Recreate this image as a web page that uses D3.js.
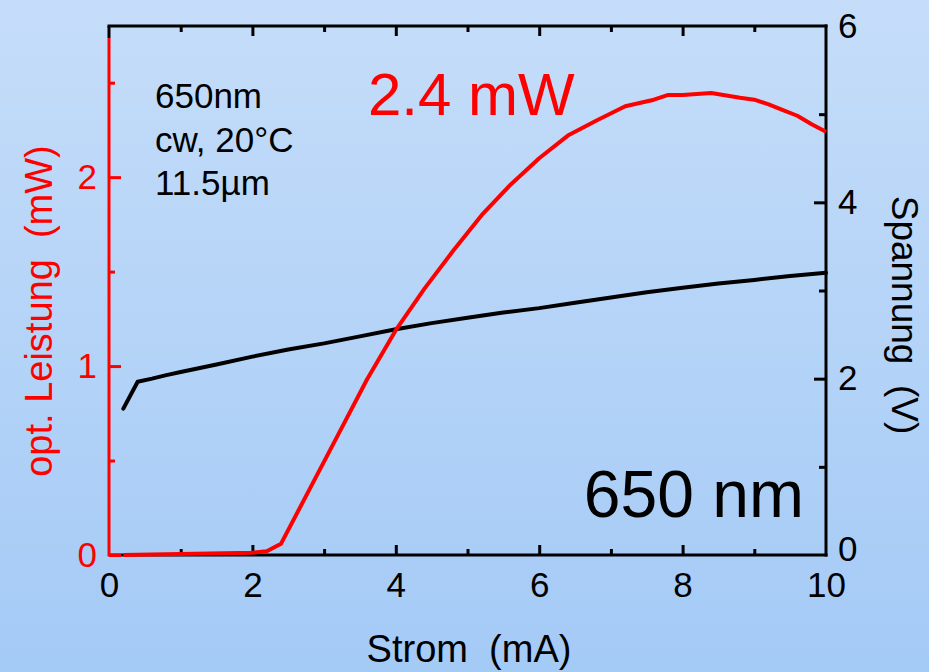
<!DOCTYPE html>
<html><head><meta charset="utf-8">
<script src="https://cdn.jsdelivr.net/npm/d3@7"></script>
<style>html,body{margin:0;padding:0;overflow:hidden;}svg{display:block;font-family:"Liberation Sans",Arial,sans-serif;}</style>
</head><body>
<script>
// ---- data ----
const powerCurrent = [0.2,1.0,2.0,2.2,2.4,2.8,3.2,3.6,4.0,4.4,4.8,5.2,5.6,6.0,6.4,6.8,7.2,7.6,7.8,8.0,8.4,8.8,9.0,9.2,9.4,9.6,9.8,10.0];
const powerValues  = [0.0,0.005,0.012,0.02,0.06,0.35,0.64,0.93,1.19,1.41,1.61,1.80,1.96,2.10,2.22,2.30,2.375,2.41,2.435,2.435,2.445,2.42,2.41,2.385,2.355,2.325,2.28,2.24];
const voltCurrent  = [0.2,0.4,0.6,0.8,1.0,1.5,2.0,2.5,3.0,3.5,4.0,4.5,5.0,5.5,6.0,6.5,7.0,7.5,8.0,8.5,9.0,9.5,10.0];
const voltValues   = [1.66,1.965,2.0,2.04,2.075,2.16,2.25,2.33,2.40,2.48,2.56,2.63,2.69,2.75,2.80,2.86,2.92,2.98,3.03,3.08,3.12,3.165,3.2];
const xTicks = [0,2,4,6,8,10];
const xMinorTicks = [1,3,5,7,9];
const yLeftTicks = [0,1,2];
const yLeftMinor = [0.5,1.5,2.5];
const yRightTicks = [0,2,4,6];
const yRightMinor = [1,3,5];
const xTitle = "Strom\u00a0\u00a0(mA)";
const yLeftTitle = "opt. Leistung\u00a0\u00a0(mW)";
const yRightTitle = "Spannung\u00a0\u00a0(V)";
const infoLines = ["650nm","cw, 20°C","11.5µm"];
const peakLabel = "2.4 mW";
const waveLabel = "650 nm";

// ---- layout ----
const W = 929, H = 672;
const L = 109, R = 826, T = 26, B = 555;
const svg = d3.select("body").append("svg").attr("width", W).attr("height", H);
const defs = svg.append("defs");
const grad = defs.append("linearGradient").attr("id","bg").attr("x1",0).attr("y1",0).attr("x2",0).attr("y2",1);
grad.append("stop").attr("offset","0%").attr("stop-color","#c5ddf9");
grad.append("stop").attr("offset","100%").attr("stop-color","#a4caf6");
svg.append("rect").attr("width",W).attr("height",H).attr("fill","url(#bg)");

const x = d3.scaleLinear().domain([0,10]).range([L,R]);
const yL = d3.scaleLinear().domain([0,2.8]).range([B,T]);
const yR = d3.scaleLinear().domain([0,6]).range([B,T]);

const tickFont = 35;
function style(g, color){
  g.select(".domain").remove();
  g.selectAll("line").attr("stroke",color).attr("stroke-width",3);
  g.selectAll("text").attr("fill",color).attr("font-size",tickFont).attr("font-family","Liberation Sans, Arial, sans-serif");
}

// frame lines
svg.append("line").attr("x1",L-1.5).attr("x2",R+1.5).attr("y1",T).attr("y2",T).attr("stroke","#000").attr("stroke-width",3);
svg.append("line").attr("x1",L).attr("x2",L).attr("y1",T).attr("y2",38).attr("stroke","#000").attr("stroke-width",3);
svg.append("line").attr("x1",R).attr("x2",R).attr("y1",T-1.5).attr("y2",B+1.5).attr("stroke","#000").attr("stroke-width",3);
svg.append("line").attr("x1",L).attr("x2",R+1.5).attr("y1",B).attr("y2",B).attr("stroke","#000").attr("stroke-width",3);
svg.append("line").attr("x1",L).attr("x2",L).attr("y1",38).attr("y2",B+1.5).attr("stroke","#f00").attr("stroke-width",3);

// bottom axis
const gB = svg.append("g").attr("transform",`translate(0,${B})`)
  .call(d3.axisBottom(x).tickValues(xTicks).tickSizeInner(-10).tickSizeOuter(0).tickPadding(17).tickFormat(d3.format("d")));
style(gB,"#000");
gB.selectAll(".tick").filter(d=>d===0||d===10).select("line").remove();
const gBm = svg.append("g").attr("transform",`translate(0,${B})`)
  .call(d3.axisBottom(x).tickValues(xMinorTicks).tickSizeInner(-6).tickSizeOuter(0).tickFormat(""));
style(gBm,"#000");
// top axis
const gT = svg.append("g").attr("transform",`translate(0,${T})`)
  .call(d3.axisTop(x).tickValues(xTicks.filter(d=>d>0&&d<10)).tickSizeInner(-10).tickSizeOuter(0).tickFormat(""));
style(gT,"#000");
const gTm = svg.append("g").attr("transform",`translate(0,${T})`)
  .call(d3.axisTop(x).tickValues(xMinorTicks).tickSizeInner(-6).tickSizeOuter(0).tickFormat(""));
style(gTm,"#000");

// left axis (red)
const gL = svg.append("g").attr("transform",`translate(${L},0)`)
  .call(d3.axisLeft(yL).tickValues(yLeftTicks).tickSizeInner(-12).tickSizeOuter(0).tickPadding(12).tickFormat(d3.format("d")));
style(gL,"#f00");
const gLm = svg.append("g").attr("transform",`translate(${L},0)`)
  .call(d3.axisLeft(yL).tickValues(yLeftMinor).tickSizeInner(-6).tickSizeOuter(0).tickFormat(""));
style(gLm,"#f00");

// right axis
const gR = svg.append("g").attr("transform",`translate(${R},0)`)
  .call(d3.axisRight(yR).tickValues(yRightTicks).tickSizeInner(-12).tickSizeOuter(0).tickPadding(12).tickFormat(d3.format("d")));
style(gR,"#000");
gR.selectAll(".tick").filter(d=>d===0||d===6).select("line").remove();
gR.selectAll(".tick").filter(d=>d===0).select("text").attr("dy","0.15em");
const gRm = svg.append("g").attr("transform",`translate(${R},0)`)
  .call(d3.axisRight(yR).tickValues(yRightMinor).tickSizeInner(-7).tickSizeOuter(0).tickFormat(""));
style(gRm,"#000");

// curves
const lineP = d3.line().x((d,i)=>x(powerCurrent[i])).y(d=>yL(d));
const lineV = d3.line().x((d,i)=>x(voltCurrent[i])).y(d=>yR(d));
svg.append("path").attr("d",lineV(voltValues)).attr("fill","none").attr("stroke","#000").attr("stroke-width",4).attr("stroke-linejoin","round").attr("stroke-linecap","round");
svg.append("path").attr("d",lineP(powerValues)).attr("fill","none").attr("stroke","#f00").attr("stroke-width",4).attr("stroke-linejoin","round");

// titles
svg.append("text").attr("x",469).attr("y",662).attr("text-anchor","middle").attr("font-size",38).attr("fill","#000").text(xTitle);
svg.append("text").attr("transform","translate(52,311) rotate(-90)").attr("text-anchor","middle").attr("font-size",38).attr("fill","#f00").text(yLeftTitle);
svg.append("text").attr("transform","translate(892,315) rotate(90)").attr("text-anchor","middle").attr("font-size",37).attr("fill","#000").text(yRightTitle);

// annotations
infoLines.forEach((t,i)=>{
  svg.append("text").attr("x",155).attr("y",[108,152,195][i]).attr("font-size",35).attr("fill","#000").text(t);
});
svg.append("text").attr("x",368).attr("y",115).attr("font-size",60).attr("fill","#f00").text(peakLabel);
svg.append("text").attr("x",804).attr("y",517).attr("text-anchor","end").attr("font-size",66).attr("fill","#000").text(waveLabel);
</script>
</body></html>
